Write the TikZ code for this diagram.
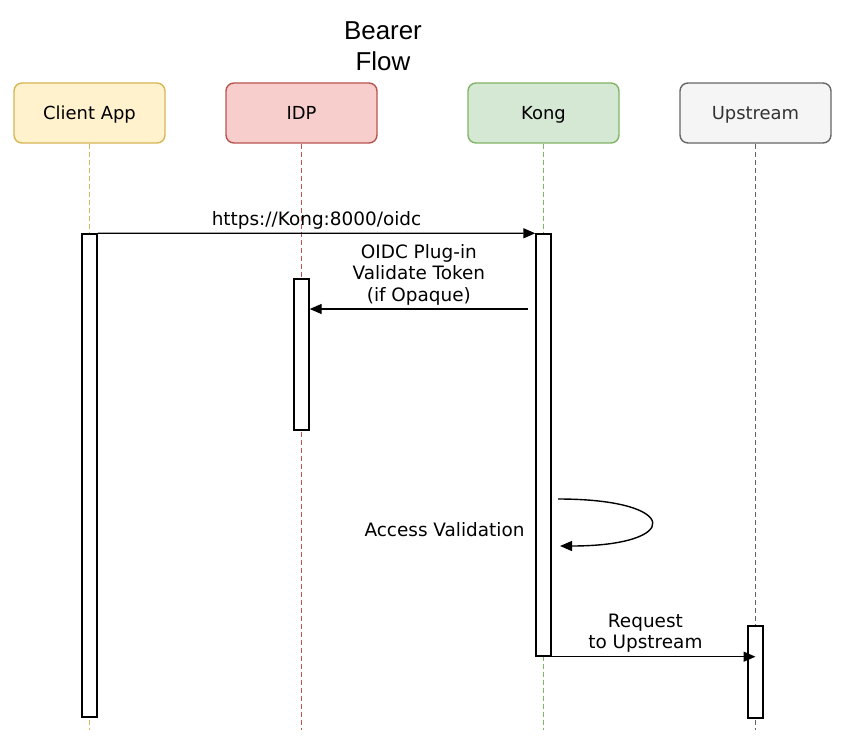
\documentclass[tikz,border=0pt]{standalone}
\usepackage{fontspec}
\setmainfont{DejaVu Sans}
\newfontfamily\titlefont{Liberation Sans}
\usetikzlibrary{arrows.meta}

\definecolor{clientfill}{HTML}{FFF2CC}
\definecolor{clientline}{HTML}{D6B656}
\definecolor{idpfill}{HTML}{F8CECC}
\definecolor{idpline}{HTML}{B85450}
\definecolor{kongfill}{HTML}{D5E8D4}
\definecolor{kongline}{HTML}{82B366}
\definecolor{upfill}{HTML}{F5F5F5}
\definecolor{upline}{HTML}{666666}
\definecolor{uptext}{HTML}{333333}

\begin{document}
\begin{tikzpicture}[x=1bp,y=-1bp,
  actor/.style={draw, rounded corners=8bp, line width=1.4bp, minimum width=151bp, minimum height=60bp, text depth=0pt, font=\fontsize{18}{21.5}\selectfont},
  bar/.style={draw=black, fill=white, line width=1.4bp, minimum width=15bp, inner sep=0pt},
  lifeline/.style={line width=1.8bp, dash pattern=on 5bp off 3bp},
  msg/.style={-{Triangle[length=12bp,width=10bp]}, line width=1.4bp},
  lbl/.style={font=\fontsize{18.5}{21.5}\selectfont, align=center}]
\useasboundingbox (0,0) rectangle (843,750);

%draw title
\node[font=\titlefont\fontsize{26}{32}\selectfont, align=center, anchor=north, inner sep=0pt] (title) at (383,21) {Bearer\\Flow};

%draw actor boxes
\node[actor, fill=clientfill, draw=clientline] (client) at (89.5,113) {Client App};
\node[actor, fill=idpfill, draw=idpline] (idp) at (301.5,113) {IDP};
\node[actor, fill=kongfill, draw=kongline] (kong) at (543.5,113) {Kong};
\node[actor, fill=upfill, draw=upline, text=uptext] (up) at (755.5,113) {Upstream};

%draw lifelines
\coordinate (lifeend) at (0,730);
\foreach \name/\col in {client/clientline, idp/idpline, kong/kongline, up/upline}
\draw[lifeline, draw=\col] (\name.south) -- (\name.south |- lifeend);

%draw activation bars
\node[bar, minimum height=483bp] (cbar) at (89.5,475.5) {};
\node[bar, minimum height=151bp] (ibar) at (301.5,354.5) {};
\node[bar, minimum height=422bp] (kbar) at (543.5,445) {};
\node[bar, minimum height=92bp] (ubar) at (755.5,672) {};

%draw messages
\draw[msg] (cbar.north east) -- node[lbl, above] (lbl1) {https://Kong:8000/oidc} (kbar.north west);

\coordinate (v2) at (528,309);
\draw[msg] (v2) -- node[lbl, above] (lbl2) {OIDC Plug-in\\Validate Token\\(if Opaque)} (ibar.east |- v2);

\coordinate (s1) at (558,499);
\coordinate (s2) at (560,546);
\draw[msg] (s1) .. controls (682,499) and (682,546) .. (s2);
\node[lbl, anchor=east] (lbl3) at (528,530) {Access Validation};

\draw[msg] (kbar.south west) -- node[lbl, above] (lbl4) {Request\\to Upstream} (kbar.south west -| ubar.center);

\end{tikzpicture}
\end{document}
